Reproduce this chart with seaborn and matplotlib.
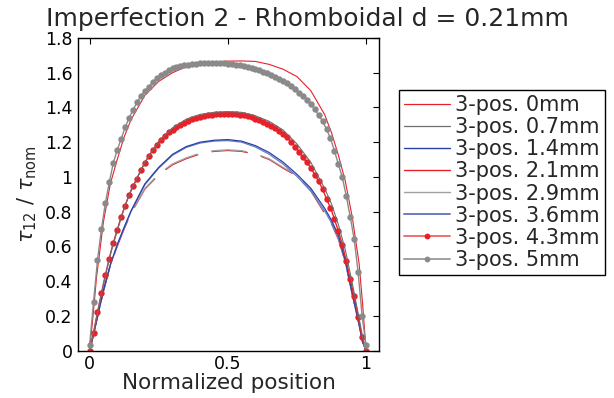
import numpy as np
import pandas as pd
import matplotlib
matplotlib.use("Agg")
import matplotlib.pyplot as plt
from matplotlib.lines import Line2D
from matplotlib.ticker import FuncFormatter
import seaborn as sns

# ---------------- data ----------------
title = "Imperfection 2 - Rhomboidal d = 0.21mm"
labels = ["3-pos. 0mm", "3-pos. 0.7mm", "3-pos. 1.4mm", "3-pos. 2.1mm",
          "3-pos. 2.9mm", "3-pos. 3.6mm", "3-pos. 4.3mm", "3-pos. 5mm"]

# positions for the thin-line series
x_line = [0.0, 0.0125, 0.025, 0.05, 0.075, 0.1, 0.125, 0.15, 0.2, 0.25, 0.3, 0.35,
          0.4, 0.45, 0.5, 0.55, 0.6, 0.65, 0.7, 0.75, 0.8, 0.85, 0.875, 0.9,
          0.925, 0.95, 0.975, 0.9875, 1.0]

pos_0mm = [0.0, 0.20, 0.42, 0.74, 0.96, 1.10, 1.23, 1.33, 1.47, 1.55, 1.60, 1.635,
           1.652, 1.662, 1.667, 1.668, 1.665, 1.648, 1.62, 1.578, 1.497, 1.36, 1.255,
           1.125, 0.975, 0.77, 0.50, 0.27, 0.0]
pos_07mm = [0.0, 0.09, 0.19, 0.38, 0.555, 0.69, 0.82, 0.925, 1.085, 1.205, 1.282, 1.333,
            1.36, 1.372, 1.376, 1.372, 1.352, 1.32, 1.27, 1.19, 1.085, 0.935, 0.845,
            0.725, 0.58, 0.39, 0.185, 0.08, 0.0]
pos_14mm = [0.0, 0.08, 0.17, 0.345, 0.495, 0.61, 0.71, 0.805, 0.96, 1.055, 1.13, 1.175,
            1.20, 1.211, 1.215, 1.206, 1.18, 1.14, 1.085, 1.015, 0.935, 0.82, 0.75,
            0.665, 0.52, 0.33, 0.15, 0.05, 0.0]
pos_21mm = [0.0, 0.08, 0.17, 0.34, 0.49, 0.60, 0.70, 0.79, 0.93, 1.012, 1.07, 1.105,
            1.132, 1.147, 1.152, 1.147, 1.13, 1.10, 1.05, 1.005, 0.92, 0.79, 0.73,
            0.64, 0.51, 0.33, 0.15, 0.05, 0.0]
pos_29mm = [0.0, 0.08, 0.17, 0.342, 0.492, 0.602, 0.703, 0.793, 0.934, 1.017, 1.075, 1.11,
            1.137, 1.151, 1.156, 1.151, 1.134, 1.104, 1.055, 1.01, 0.925, 0.795, 0.735,
            0.645, 0.515, 0.335, 0.15, 0.05, 0.0]
pos_36mm = [0.0, 0.08, 0.168, 0.342, 0.49, 0.605, 0.705, 0.80, 0.955, 1.05, 1.125, 1.17,
            1.195, 1.206, 1.209, 1.200, 1.172, 1.13, 1.074, 1.003, 0.92, 0.805, 0.735,
            0.65, 0.508, 0.322, 0.146, 0.05, 0.0]

# positions for the marker series (71 nodes)
x_dot = np.linspace(0.0, 1.0, 71)

pos_43mm = [0.0, 0.10, 0.22, 0.33, 0.435, 0.53, 0.62, 0.695, 0.77, 0.835, 0.895, 0.945,
            0.99, 1.04, 1.08, 1.12, 1.155, 1.185, 1.215, 1.238, 1.258, 1.272, 1.286, 1.30,
            1.312, 1.322, 1.331, 1.339, 1.346, 1.351, 1.356, 1.359, 1.362, 1.363, 1.364,
            1.364, 1.363, 1.361, 1.358, 1.354, 1.349, 1.343, 1.336, 1.327, 1.316, 1.305,
            1.295, 1.28, 1.265, 1.247, 1.227, 1.202, 1.175, 1.145, 1.112, 1.083, 1.053,
            1.013, 0.975, 0.93, 0.872, 0.823, 0.757, 0.687, 0.61, 0.515, 0.41, 0.312,
            0.195, 0.075, 0.0]
pos_5mm = [0.03, 0.28, 0.52, 0.70, 0.85, 0.97, 1.08, 1.155, 1.22, 1.285, 1.34, 1.385,
           1.43, 1.465, 1.495, 1.52, 1.545, 1.567, 1.585, 1.60, 1.615, 1.625, 1.632,
           1.638, 1.643, 1.647, 1.650, 1.652, 1.654, 1.655, 1.656, 1.656, 1.656, 1.655,
           1.654, 1.651, 1.649, 1.646, 1.642, 1.638, 1.633, 1.628, 1.622, 1.615, 1.607,
           1.598, 1.588, 1.577, 1.565, 1.553, 1.54, 1.523, 1.505, 1.486, 1.466, 1.444,
           1.42, 1.39, 1.355, 1.32, 1.275, 1.222, 1.15, 1.073, 0.997, 0.89, 0.77, 0.64,
           0.45, 0.20, 0.03]

x_ticks = [0, 0.5, 1]
y_ticks = [0, 0.2, 0.4, 0.6, 0.8, 1.0, 1.2, 1.4, 1.6, 1.8]

# ---------------- style ----------------
sns.set_style("white")
plt.rcParams["font.family"] = ["DejaVu Sans"]
plt.rcParams["mathtext.fontset"] = "dejavusans"

RED = "#E8202A"
GRAY_D = "#6E6E6E"
GRAY = "#8A8A8A"
GRAY_L = "#A0A0A0"
BLUE = "#2642A6"
BLUE_L = "#6A7CC4"

fig = plt.figure(figsize=(6.14, 3.98), dpi=100)
ax = fig.add_axes([0.127, 0.1193, 0.4903, 0.7852])

line_specs = [
    (pos_0mm, RED, 0.8, None),
    (pos_21mm, RED, 0.9, (29, 11)),
    (pos_29mm, GRAY_L, 0.9, (29, 11)),
    (pos_36mm, BLUE_L, 0.9, None),
    (pos_14mm, BLUE, 0.9, None),
]
for vals, col, lw, dash in line_specs:
    df = pd.DataFrame({"x": x_line, "y": vals})
    sns.lineplot(data=df, x="x", y="y", ax=ax, color=col, linewidth=lw,
                 estimator=None, sort=False, legend=False)
    if dash is not None:
        ax.lines[-1].set_dashes(dash)

df43 = pd.DataFrame({"x": x_dot, "y": pos_43mm})
sns.lineplot(data=df43, x="x", y="y", ax=ax, color=RED, linewidth=1.0,
             marker="o", markersize=4.6, markeredgewidth=0,
             estimator=None, sort=False, legend=False)
df07 = pd.DataFrame({"x": x_line, "y": pos_07mm})
sns.lineplot(data=df07, x="x", y="y", ax=ax, color=GRAY_D, linewidth=0.8,
             estimator=None, sort=False, legend=False)
df5 = pd.DataFrame({"x": x_dot, "y": pos_5mm})
sns.lineplot(data=df5, x="x", y="y", ax=ax, color=GRAY, linewidth=1.0,
             marker="o", markersize=4.6, markeredgewidth=0,
             estimator=None, sort=False, legend=False)

ax.set_xlim(-0.042, 1.047)
ax.set_ylim(0, 1.8)
ax.set_xticks(x_ticks)
ax.set_yticks(y_ticks)
fmt = FuncFormatter(lambda v, p: "%g" % v)
ax.xaxis.set_major_formatter(fmt)
ax.yaxis.set_major_formatter(fmt)
ax.tick_params(direction="in", top=True, right=True, length=4, width=0.8,
               labelsize=12.5, colors="black", pad=4)
ax.tick_params(axis="x", pad=3)
for s in ax.spines.values():
    s.set_visible(True)
    s.set_color("black")
    s.set_linewidth(1.0)

ax.set_xlabel("Normalized position", fontsize=15.5, labelpad=0)
ax.set_ylabel(r"$\tau_{12}$ / $\tau_{\mathrm{nom}}$", fontsize=15, labelpad=4)
fig.text(0.5, 0.952, title, ha="center", va="center", fontsize=18)

handles = [
    Line2D([], [], color=RED, lw=0.9),
    Line2D([], [], color=GRAY_D, lw=0.9),
    Line2D([], [], color=BLUE, lw=1.0),
    Line2D([], [], color=RED, lw=1.0),
    Line2D([], [], color=GRAY_L, lw=1.0),
    Line2D([], [], color=BLUE_L, lw=1.4),
    Line2D([], [], color="#F07070", lw=1.4, marker="o", markersize=4.2,
           markerfacecolor=RED, markeredgewidth=0),
    Line2D([], [], color=GRAY_L, lw=1.4, marker="o", markersize=4.2,
           markerfacecolor=GRAY, markeredgewidth=0),
]
leg = fig.legend(handles, labels, loc="upper left",
                 bbox_to_anchor=(399 / 614, 1 - 90 / 398),
                 fontsize=15, frameon=True, fancybox=False, shadow=False,
                 framealpha=1, edgecolor="black", borderpad=0.25,
                 labelspacing=0.1, handlelength=2.2, handletextpad=0.25,
                 borderaxespad=0)
leg.get_frame().set_linewidth(1.0)

fig.savefig("out.png", dpi=100)
